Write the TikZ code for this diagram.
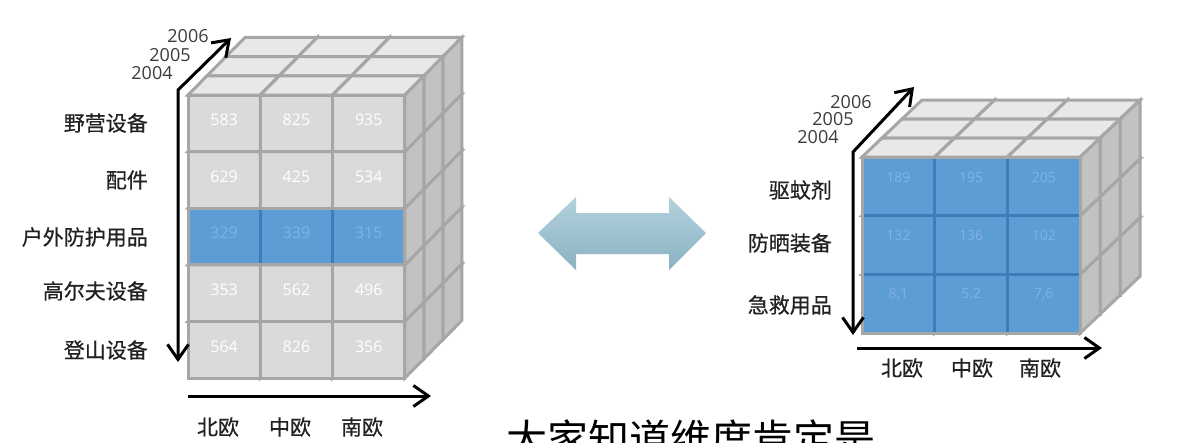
\documentclass[tikz,border=0pt]{standalone}
\usepackage{fontspec}
\newfontfamily\cjk{Noto Sans CJK SC}[FakeBold=0.6]
\newfontfamily\cjkcap{Noto Sans CJK SC}
\newfontfamily\numf{Open Sans}
\usetikzlibrary{arrows.meta}
\definecolor{cellfront}{RGB}{218,218,218}
\definecolor{celltop}{RGB}{232,232,232}
\definecolor{cellside}{RGB}{194,194,194}
\definecolor{cellline}{RGB}{166,166,166}
\definecolor{bluefill}{RGB}{93,157,214}
\definecolor{blueline}{RGB}{62,124,186}
\definecolor{bluetext}{RGB}{125,178,228}
\definecolor{arrowtop}{RGB}{178,210,220}
\definecolor{arrowbot}{RGB}{138,178,194}
\definecolor{labelc}{RGB}{34,34,34}
\definecolor{yearc}{RGB}{60,60,60}
\tikzset{
  cubeface/.style={draw=cellline, line width=3pt, line join=miter},
  axisline/.style={line width=3pt, black, line join=miter},
  rowlabel/.style={anchor=east, inner sep=0pt, text=labelc, font=\cjk\fontsize{21}{21}\selectfont},
  collabel/.style={inner sep=0pt, text=labelc, font=\cjk\fontsize{21}{21}\selectfont},
  yearlabel/.style={inner sep=0pt, text=yearc, font=\numf\fontsize{18}{18}\selectfont},
  graynum/.style={inner sep=0pt, text=white, font=\numf\fontsize{16}{16}\selectfont},
  bluenum/.style={inner sep=0pt, text=bluetext, font=\numf\fontsize{16}{16}\selectfont},
  rbluenum/.style={inner sep=0pt, text=bluetext, font=\numf\fontsize{14}{14}\selectfont},
}
\newcommand{\drawcube}[6]{%
  \filldraw[cubeface, fill=cellfront] (#1,#2) rectangle ++(#3,#4);
  \filldraw[cubeface, fill=celltop] (#1,#2) -- ++(#3,0) -- ++(#5,-#6) -- ++(-#3,0) -- cycle;
  \filldraw[cubeface, fill=cellside] (#1,#2) ++(#3,0) -- ++(0,#4) -- ++(#5,-#6) -- ++(0,-#4) -- cycle;
}
\begin{document}
\begin{tikzpicture}[x=1pt,y=-1pt, >={Straight Barb[length=15pt,width=21pt]}]
\fill[white] (0,0) rectangle (1204,442);
\useasboundingbox (0,0) rectangle (1204,442);

% ---------- left cube ----------
\foreach \k in {2,1,0}{
  \foreach \r in {4,3,2,1,0}{
    \foreach \c in {0,1,2}{
      \pgfmathsetmacro\xo{188+\c*72.3+\k*19}
      \pgfmathsetmacro\yo{95+\r*56.6-\k*19.2}
      \drawcube{\xo}{\yo}{72.3}{56.6}{19}{19.2}
    }}}
\foreach \c in {0,1,2}{
  \pgfmathsetmacro\xo{188+\c*72.3}
  \filldraw[fill=bluefill, draw=blueline, line width=3pt] (\xo,208.2) rectangle ++(72.3,56.6);
}
\draw[cellline, line width=3pt] (188,208.2) rectangle ++(216.9,56.6);

\foreach \v [count=\i from 0] in {583,825,935,629,425,534,329,339,315,353,562,496,564,826,356}{
  \pgfmathtruncatemacro\rr{int(\i/3)}
  \pgfmathtruncatemacro\cc{mod(\i,3)}
  \pgfmathsetmacro\xc{188+\cc*72.3+36.15}
  \pgfmathsetmacro\yc{95+\rr*56.6+25}
  \ifnum\rr=2
    \node[bluenum] (ln\i) at (\xc,\yc) {\v};
  \else
    \node[graynum] (ln\i) at (\xc,\yc) {\v};
  \fi
}

% left axes
\coordinate (lvb) at (178,362);
\coordinate (lvc) at (178,90);
\coordinate (lvt) at (231,38);
\draw[axisline,<->] (lvb) -- (lvc) -- (lvt);
\coordinate (lha) at (188,396);
\coordinate (lhb) at (431,396);
\draw[axisline,->] (lha) -- (lhb);

% left labels
\node[rowlabel] (lr1) at (148,123) {野营设备};
\node[rowlabel] (lr2) at (148,180) {配件};
\node[rowlabel] (lr3) at (148,237) {户外防护用品};
\node[rowlabel] (lr4) at (148,291) {高尔夫设备};
\node[rowlabel] (lr5) at (148,350) {登山设备};
\node[collabel] (lc1) at (218,427) {北欧};
\node[collabel] (lc2) at (290,427) {中欧};
\node[collabel] (lc3) at (362,427) {南欧};
\node[yearlabel] (ly6) at (188,36) {2006};
\node[yearlabel] (ly5) at (170,55) {2005};
\node[yearlabel] (ly4) at (152,73) {2004};

% ---------- double arrow ----------
\shade[top color=arrowtop, bottom color=arrowbot]
  (538,233) -- (576,197) -- (576,213) -- (669,213) -- (669,197) -- (706,233)
  -- (669,270) -- (669,254) -- (576,254) -- (576,270) -- cycle;

% ---------- right cube ----------
\foreach \k in {2,1,0}{
  \foreach \r in {2,1,0}{
    \foreach \c in {0,1,2}{
      \pgfmathsetmacro\xo{862+\c*72.7+\k*20}
      \pgfmathsetmacro\yo{157+\r*58.7-\k*19}
      \drawcube{\xo}{\yo}{72.7}{58.7}{20}{19}
    }}}
\foreach \r in {0,1,2}{
  \foreach \c in {0,1,2}{
    \pgfmathsetmacro\xo{862+\c*72.7}
    \pgfmathsetmacro\yo{157+\r*58.7}
    \filldraw[fill=bluefill, draw=blueline, line width=3pt] (\xo,\yo) rectangle ++(72.7,58.7);
  }}
\draw[cellline, line width=3pt] (862,157) rectangle ++(218.1,176.1);

\foreach \v [count=\i from 0] in {189,195,205,132,136,102,{8,1},{5,2},{7,6}}{
  \pgfmathtruncatemacro\rr{int(\i/3)}
  \pgfmathtruncatemacro\cc{mod(\i,3)}
  \pgfmathsetmacro\xc{862+\cc*72.7+36.35}
  \pgfmathsetmacro\yc{157+\rr*58.7+20}
  \node[rbluenum] (rn\i) at (\xc,\yc) {\v};
}

% right axes
\coordinate (rvb) at (853,335);
\coordinate (rvc) at (853,152);
\coordinate (rvt) at (914,87);
\draw[axisline,<->] (rvb) -- (rvc) -- (rvt);
\coordinate (rha) at (857,348);
\coordinate (rhb) at (1102,348);
\draw[axisline,->] (rha) -- (rhb);

% right labels
\node[rowlabel] (rr1) at (832,190) {驱蚊剂};
\node[rowlabel] (rr2) at (832,243) {防晒装备};
\node[rowlabel] (rr3) at (832,305) {急救用品};
\node[collabel] (rc1) at (902,368) {北欧};
\node[collabel] (rc2) at (972,368) {中欧};
\node[collabel] (rc3) at (1040,368) {南欧};
\node[yearlabel] (ry6) at (851,102) {2006};
\node[yearlabel] (ry5) at (833,119) {2005};
\node[yearlabel] (ry4) at (818,137) {2004};

% ---------- bottom caption (cut off at the lower edge, as in the reference) ----------
\begin{scope}
\clip (0,0) rectangle (1204,442);
\node[anchor=base west, inner sep=0pt, font=\cjkcap\fontsize{41}{41}\selectfont] (cap) at (506,454) {大家知道维度肯定是};
\end{scope}
\end{tikzpicture}
\end{document}
